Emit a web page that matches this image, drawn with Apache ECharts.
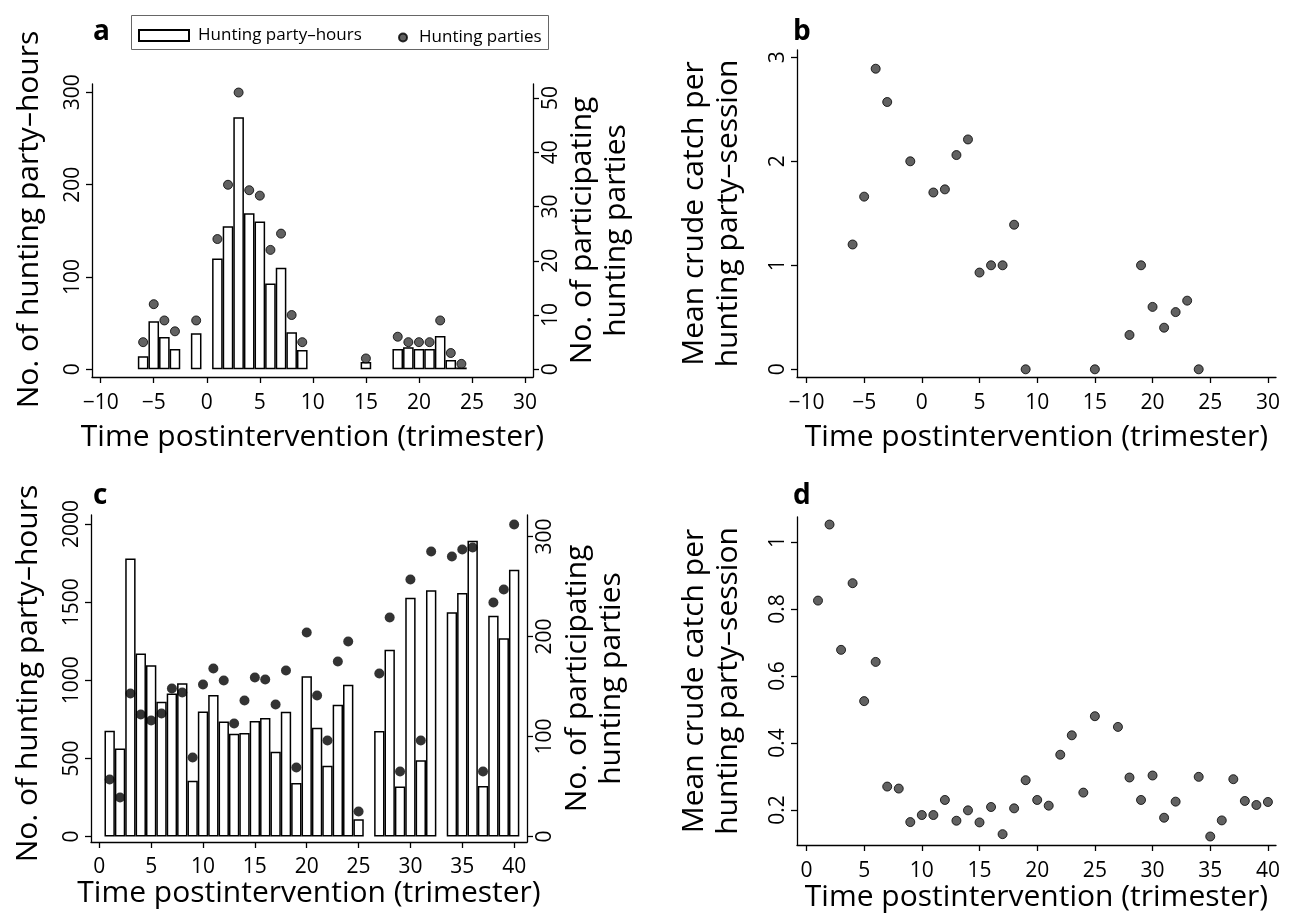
<!DOCTYPE html>
<html><head><meta charset="utf-8">
<script src="https://cdn.jsdelivr.net/npm/echarts@6/dist/echarts.min.js"></script>
<style>html,body{margin:0;padding:0;background:#fff}#c{width:1298px;height:914px}</style>
</head><body><div id="c"></div>
<script>
// ---- Panel a (pre/post intervention, trimesters -6..24)
const aX       = [-6,-5,-4,-3,-1,1,2,3,4,5,6,7,8,9,15,18,19,20,21,22,23,24];
const aHours   = [14,52,35,22,39,120,155,273,169,160,93,110,40,21,8,22,24,22,22,36,10,2];
const aParties = [5,12,9,7,9,24,34,51,33,32,22,25,10,5,2,6,5,5,5,9,3,1];
// ---- Panel b
const bX     = [-6,-5,-4,-3,-1,1,2,3,4,5,6,7,8,9,15,18,19,20,21,22,23,24];
const bCatch = [1.2,1.66,2.89,2.57,2.0,1.70,1.73,2.06,2.21,0.93,1.0,1.0,1.39,0,0,0.33,1.0,0.60,0.40,0.55,0.66,0];
// ---- Panel c
const cX       = [1,2,3,4,5,6,7,8,9,10,11,12,13,14,15,16,17,18,19,20,21,22,23,24,25,27,28,29,30,31,32,34,35,36,37,38,39,40];
const cHours   = [677,564,1780,1171,1096,863,915,981,357,801,906,737,658,662,739,759,543,799,342,1026,697,453,844,972,111,675,1195,321,1528,489,1577,1436,1558,1893,323,1413,1269,1708];
const cParties = [57,39,143,122,116,123,148,144,79,152,168,156,113,136,159,157,132,166,69,204,141,96,175,195,25,163,219,65,257,96,285,280,287,289,65,234,247,312];
// ---- Panel d
const dX     = [1,2,3,4,5,6,7,8,9,10,11,12,13,14,15,16,17,18,19,20,21,22,23,24,25,27,28,29,30,31,32,34,35,36,37,38,39,40];
const dCatch = [0.825,1.052,0.678,0.877,0.525,0.642,0.270,0.264,0.164,0.185,0.185,0.230,0.168,0.199,0.163,0.209,0.128,0.205,0.289,0.230,0.213,0.365,0.423,0.252,0.480,0.448,0.297,0.230,0.303,0.177,0.225,0.299,0.121,0.169,0.292,0.227,0.215,0.224];
// ---- Tick labels
const abXTicks   = [-10,-5,0,5,10,15,20,25,30];
const cdXTicks   = [0,5,10,15,20,25,30,35,40];
const aYLTicks   = [0,100,200,300];
const aYRTicks   = [0,10,20,30,40,50];
const bYTicks    = [0,1,2,3];
const cYLTicks   = [0,500,1000,1500,2000];
const cYRTicks   = [0,100,200,300];
const dYTicks    = [0.2,0.4,0.6,0.8,1];
// ---- Texts
const xTitle = 'Time postintervention (trimester)';
const yHoursTitle = 'No. of hunting party\u2013hours';
const yPartiesTitle = 'No. of participating\nhunting parties';
const yCatchTitle = 'Mean crude catch per\nhunting party\u2013session';
const legHours = 'Hunting party\u2013hours';
const legParties = 'Hunting parties';

const FONT = 'Open Sans';
const fmt = v => String(v).replace('-', '\u2212');
const lineS = {color:'#000', width:1.3};

function xAx(gi, min, max, ticks, labelMargin, nameGap) {
  return {
    gridIndex: gi, type:'value', min, max, position:'bottom',
    axisLine:{show:true, onZero:false, lineStyle:lineS},
    axisTick:{show:true, length:6, lineStyle:lineS, customValues:ticks},
    axisLabel:{customValues:ticks, formatter:fmt, fontFamily:FONT, fontSize:21, color:'#000', margin:labelMargin},
    splitLine:{show:false},
    name:xTitle, nameLocation:'middle', nameGap,
    nameTextStyle:{fontFamily:FONT, fontSize:30, color:'#000'}
  };
}
function yAx(gi, min, max, ticks, pos, name, nameGap, namePad) {
  return {
    gridIndex: gi, type:'value', min, max, position:pos,
    axisLine:{show:true, onZero:false, lineStyle:lineS},
    axisTick:{show:true, length:6, lineStyle:lineS, customValues:ticks},
    axisLabel:{customValues:ticks, formatter:fmt, rotate:90, fontFamily:FONT, fontSize:21, color:'#000', margin:8},
    splitLine:{show:false},
    name, nameLocation:'middle', nameRotate:90, nameGap,
    nameTextStyle:{fontFamily:FONT, fontSize:30, color:'#000', lineHeight:34, padding:namePad || 0}
  };
}

const barStyle = {color:'#fff', borderColor:'#000', borderWidth:1.5};
const dotStyle = {color:'#3a3a3a', borderColor:'#000', borderWidth:1};

const option = {
  animation:false,
  backgroundColor:'#fff',
  grid:[
    {left:92, top:84, width:441, height:293},
    {left:797, top:50, width:479, height:327},
    {left:91, top:515, width:436, height:327},
    {left:797, top:517, width:479, height:328}
  ],
  xAxis:[
    xAx(0, -10.82, 30.75, abXTicks, 16, 45),
    xAx(1, -10.82, 30.7, abXTicks, 16, 45),
    xAx(2, -0.8, 41.24, cdXTicks, 15, 32),
    xAx(3, -0.82, 40.7, cdXTicks, 16, 33)
  ],
  yAxis:[
    yAx(0, -8.34, 309, aYLTicks, 'left', yHoursTitle, 46, [0,0,0,22]),
    yAx(0, -1.42, 52.57, aYRTicks, 'right', yPartiesTitle, 32),
    yAx(1, -0.074, 3.07, bYTicks, 'left', yCatchTitle, 52),
    yAx(2, -35, 2058, cYLTicks, 'left', yHoursTitle, 46, [0,0,0,10]),
    yAx(2, -5.5, 321.5, cYRTicks, 'right', yPartiesTitle, 33),
    yAx(3, 0.0956, 1.0745, dYTicks, 'left', yCatchTitle, 52)
  ],
  legend:[
    {data:[legHours], left:138, top:27, padding:0, itemWidth:50, itemHeight:11, icon:'rect',
     textStyle:{fontFamily:FONT, fontSize:17, color:'#000', padding:[0,0,0,4]}, selectedMode:false},
    {data:[legParties], left:398, top:29, padding:0, itemWidth:8, itemHeight:8, icon:'circle',
     textStyle:{fontFamily:FONT, fontSize:17, color:'#000', padding:[0,0,0,7]}, selectedMode:false}
  ],
  graphic:[
    {type:'rect', shape:{x:131.5, y:15.5, width:417, height:34}, style:{fill:'none', stroke:'#666', lineWidth:1}},
    {type:'text', left:93, top:18, style:{text:'a', font:'bold 28px "Open Sans"', fill:'#000'}},
    {type:'text', left:793, top:18, style:{text:'b', font:'bold 28px "Open Sans"', fill:'#000'}},
    {type:'text', left:93, top:482, style:{text:'c', font:'bold 28px "Open Sans"', fill:'#000'}},
    {type:'text', left:793, top:482, style:{text:'d', font:'bold 28px "Open Sans"', fill:'#000'}}
  ],
  series:[
    {name:legHours, type:'bar', xAxisIndex:0, yAxisIndex:0, barWidth:10.6,
     data:aX.map((x,i)=>[x,aHours[i]]), itemStyle:barStyle},
    {name:legParties, type:'scatter', xAxisIndex:0, yAxisIndex:1, symbolSize:9, z:3,
     data:aX.map((x,i)=>[x,aParties[i]]), itemStyle:dotStyle},
    {name:'b', type:'scatter', xAxisIndex:1, yAxisIndex:2, symbolSize:9,
     data:bX.map((x,i)=>[x,bCatch[i]]), itemStyle:dotStyle},
    {name:'c hours', type:'bar', xAxisIndex:2, yAxisIndex:3, barWidth:10.37,
     data:cX.map((x,i)=>[x,cHours[i]]), itemStyle:barStyle},
    {name:'c parties', type:'scatter', xAxisIndex:2, yAxisIndex:4, symbolSize:10, z:3,
     data:cX.map((x,i)=>[x,cParties[i]]), itemStyle:{color:'#000'}},
    {name:'d', type:'scatter', xAxisIndex:3, yAxisIndex:5, symbolSize:9,
     data:dX.map((x,i)=>[x,dCatch[i]]), itemStyle:dotStyle}
  ]
};
const chart = echarts.init(document.getElementById('c'), null, {renderer:'canvas'});
chart.setOption(option);
</script></body></html>
